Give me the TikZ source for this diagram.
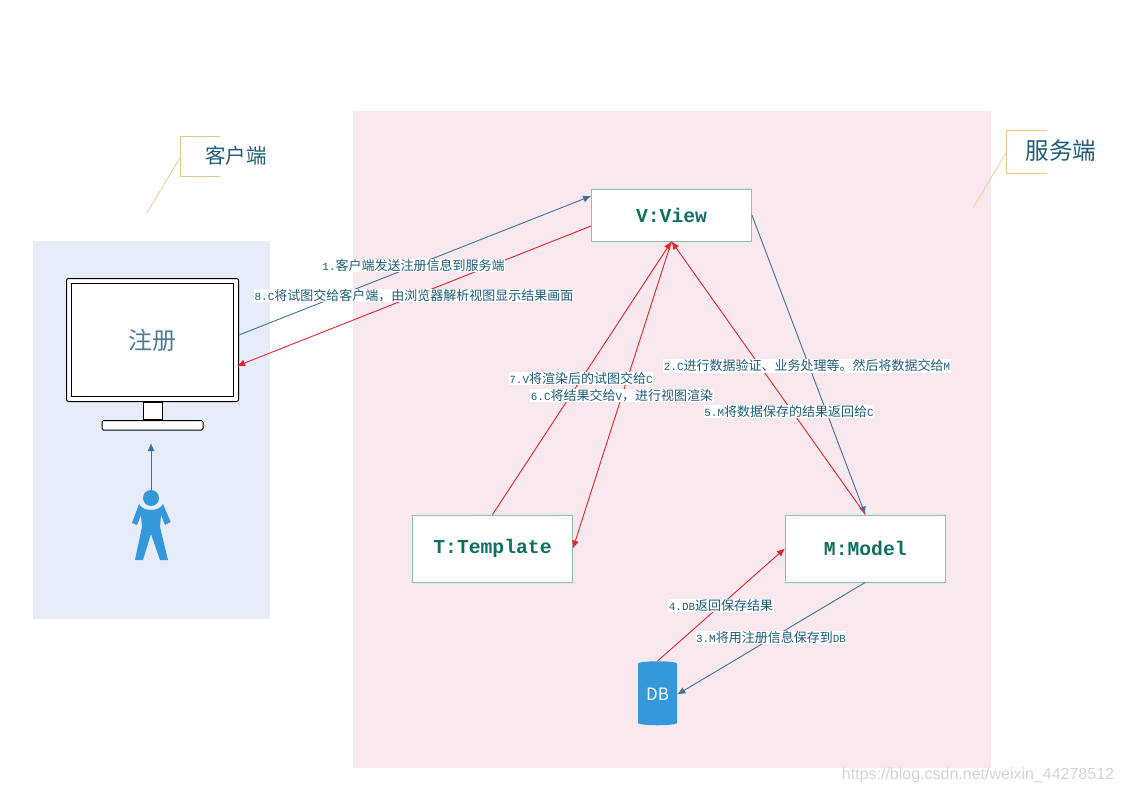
\documentclass[tikz,border=0pt]{standalone}
\usepackage{fontspec}
\usepackage{xcolor}
\setmainfont{Noto Sans CJK SC}
\newfontfamily\monofam{Liberation Mono}
\newfontfamily\smallmono[Scale=0.84]{Liberation Mono}
\newfontfamily\markfam{Liberation Sans}
\usetikzlibrary{arrows.meta,positioning,shapes.geometric}
\definecolor{serverbg}{HTML}{F9E8EE}
\definecolor{clientbg}{HTML}{E6EDF8}
\definecolor{boxline}{HTML}{8CC0B5}
\definecolor{boxtext}{HTML}{0F6F60}
\definecolor{steptext}{HTML}{1F5C7A}
\definecolor{flowblue}{HTML}{3F6F9F}
\definecolor{flowred}{HTML}{E8242C}
\definecolor{shapeblue}{HTML}{3498DB}
\definecolor{calloutline}{HTML}{E3C98A}
\newcommand{\mn}[1]{{\smallmono #1}}
\tikzset{
  mvtbox/.style={draw=boxline,fill=white,line width=0.8pt,minimum width=160pt,inner sep=0pt,
    text=boxtext,font=\monofam\bfseries\fontsize{19.7}{22}\selectfont},
  steplabel/.style={fill=white,inner sep=0.6pt,text=steptext,font=\fontsize{13}{15}\selectfont},
  calllabel/.style={inner sep=0pt,text=steptext},
  bluearrow/.style={-{Latex[length=8pt,width=7pt]},draw=flowblue,line width=0.9pt},
  redarrow/.style={-{Latex[length=8pt,width=7pt]},draw=flowred,line width=0.9pt},
  monitorpart/.style={draw=black,fill=white,line width=1pt,inner sep=0pt}
}
\begin{document}
\begin{tikzpicture}[x=1pt,y=-1pt]
  \useasboundingbox (0,0) rectangle (1123,794);
  % Backgrounds
  \node[fill=serverbg,minimum width=638pt,minimum height=657pt,inner sep=0pt] (server) at (672,439.5) {};
  \node[fill=clientbg,minimum width=237pt,minimum height=378pt,inner sep=0pt] (client) at (151.5,430) {};

  % Callouts
  \node[calllabel,font=\fontsize{20.5}{24}\selectfont] (clientname) at (236,155.5) {客户端};
  \node[calllabel,font=\fontsize{23.5}{28}\selectfont] (servername) at (1061,151) {服务端};
  \draw[calloutline,line width=0.9pt] (220,136) -- (180.5,136) -- (180.5,176.5) -- (220,176.5);
  \draw[calloutline!80,line width=0.9pt] (180.5,157) -- (147,213);
  \draw[calloutline,line width=0.9pt] (1047,130) -- (1006.5,130) -- (1006.5,173) -- (1047,173);
  \draw[calloutline!80,line width=0.9pt] (1006.5,152) -- (973,208);

  % Monitor
  \node[monitorpart,rounded corners=2pt,minimum width=172pt,minimum height=123pt] (monitor) at (152.5,340) {};
  \node[monitorpart,minimum width=162pt,minimum height=113pt,text=steptext!80,
        font=\fontsize{24}{28}\selectfont] (screen) at (monitor.center) {注册};
  \node[monitorpart,minimum width=19pt,minimum height=17pt,below=0pt of monitor] (neck) {};
  \node[monitorpart,rounded corners=1.5pt,minimum width=101pt,minimum height=9.5pt,below=0pt of neck] (stand) {};

  % Person
  \node[circle,fill=shapeblue,minimum size=16pt,inner sep=0pt] (head) at (151,498) {};
  \fill[shapeblue] (139,504) .. controls (143,512) and (159,512) .. (163,504) -- (170.7,522) -- (165,525)
    -- (161,515) -- (160,527) -- (168,560) -- (160,560) -- (151,534) -- (143,560) -- (135,560)
    -- (142,527) -- (141,515) -- (137,525) -- (132,523) -- cycle;
  \coordinate (gaze) at (151,443);

  % Nodes
  \node[mvtbox,minimum height=52pt] (view) at (671.5,215) {V:View};
  \node[mvtbox,minimum height=67pt] (template) at (492.5,548.5) {T:Template};
  \node[mvtbox,minimum height=67pt,right=212pt of template] (model) {M:Model};
  \node[cylinder,shape border rotate=90,aspect=0.2,fill=shapeblue,minimum width=39pt,minimum height=64pt,
        inner sep=0pt,text=white,font=\fontsize{17}{20}\selectfont] (db) at (657.5,694.5) {DB};

  % Ends that sit off the anchors
  \coordinate (screenout) at ([yshift=5pt]monitor.east);
  \coordinate (screenin) at ([xshift=-2pt,yshift=-26pt]monitor.east);
  \coordinate (viewin) at ([yshift=19pt]view.west);
  \coordinate (viewout) at ([yshift=-11pt]view.west);

  % Arrows
  \draw[bluearrow] (head) -- (gaze);
  \draw[bluearrow] (screenout) -- (viewin);
  \draw[redarrow] (viewout) -- (screenin);
  \draw[bluearrow] (view.east) -- (model.north);
  \draw[redarrow] (model.north) -- (view.south);
  \draw[redarrow] (view.south) -- (template.east);
  \draw[redarrow] (template.north) -- (view.south);
  \draw[bluearrow] (model.south) -- (db.east);
  \draw[redarrow] (db.top) -- (model.west);

  % Step labels
  \node[steplabel] (step1) at (413.5,265.5) {\mn{1.}客户端发送注册信息到服务端};
  \node[steplabel] (step8) at (414,295.5) {\mn{8.C}将试图交给客户端，由浏览器解析视图显示结果画面};
  \node[steplabel] (step7) at (581,378.5) {\mn{7.V}将渲染后的试图交给\mn{C}};
  \node[steplabel] (step6) at (622,395.5) {\mn{6.C}将结果交给\mn{V}，进行视图渲染};
  \node[steplabel] (step2) at (807,366) {\mn{2.C}进行数据验证、业务处理等。然后将数据交给\mn{M}};
  \node[steplabel] (step5) at (789,411.5) {\mn{5.M}将数据保存的结果返回给\mn{C}};
  \node[steplabel] (step4) at (721,605.5) {\mn{4.DB}返回保存结果};
  \node[steplabel] (step3) at (771,637.5) {\mn{3.M}将用注册信息保存到\mn{DB}};

  % Watermark
  \node[inner sep=0pt,text=black!17,font=\markfam\fontsize{16}{18}\selectfont] (mark) at (978,775.5) {https://blog.csdn.net/weixin\_44278512};
\end{tikzpicture}
\end{document}
